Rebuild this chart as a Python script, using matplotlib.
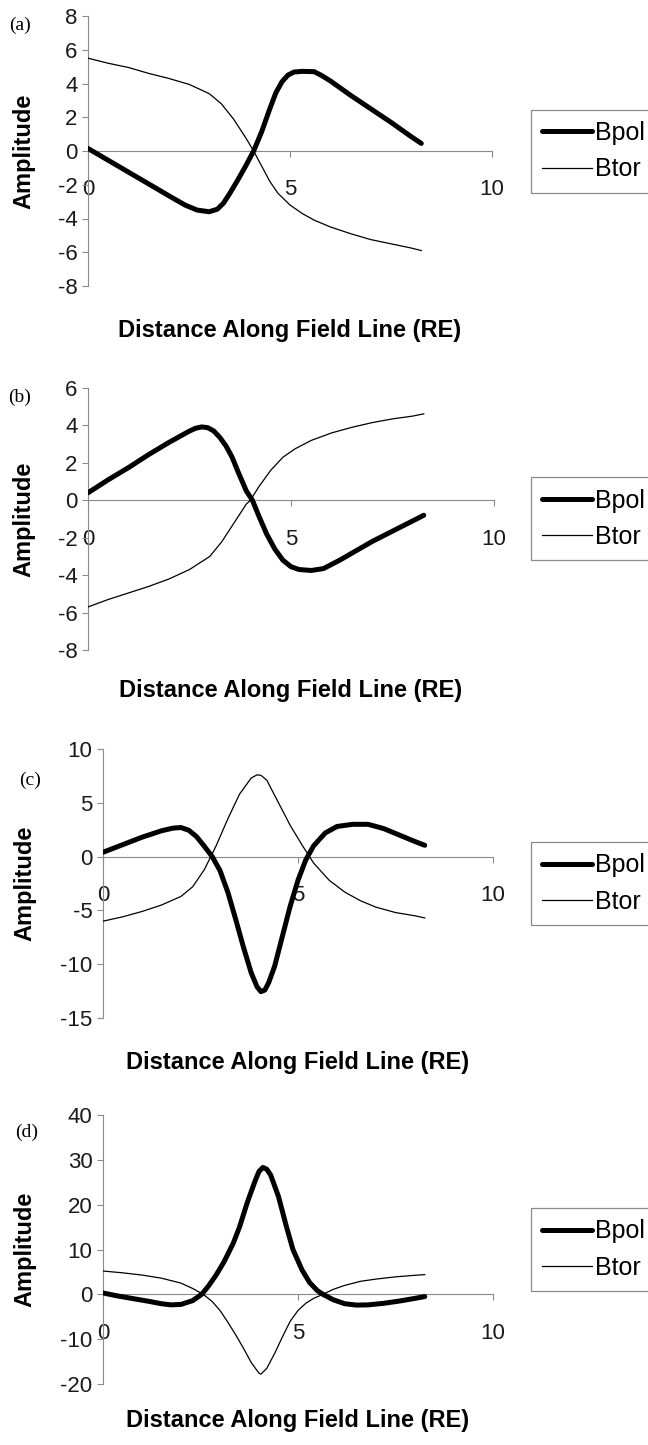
import numpy as np
import matplotlib.pyplot as plt

plt.rcParams['font.family'] = ['Liberation Sans', 'DejaVu Sans']
plt.rcParams['axes.unicode_minus'] = False

# ---- data ----
# (a)
xa_pol = [0, 0.5, 1.0, 1.5, 2.0, 2.4, 2.7, 3.0, 3.2, 3.35, 3.5, 3.7, 3.9, 4.1, 4.3, 4.5, 4.65, 4.8, 4.95, 5.1, 5.3, 5.6, 5.8, 6.0, 6.5, 7.0, 7.5, 8.0, 8.25]
ya_pol = [0.15, -0.55, -1.25, -1.95, -2.65, -3.2, -3.5, -3.6, -3.45, -3.1, -2.55, -1.75, -0.9, 0.0, 1.15, 2.5, 3.45, 4.1, 4.5, 4.68, 4.72, 4.7, 4.45, 4.15, 3.3, 2.5, 1.7, 0.85, 0.45]
xa_tor = [0, 0.5, 1.0, 1.5, 2.0, 2.5, 3.0, 3.3, 3.6, 3.9, 4.1, 4.3, 4.5, 4.7, 5.0, 5.3, 5.6, 6.0, 6.5, 7.0, 7.5, 8.0, 8.25]
ya_tor = [5.5, 5.2, 4.95, 4.6, 4.3, 3.95, 3.4, 2.8, 1.9, 0.8, 0.0, -0.9, -1.8, -2.5, -3.2, -3.7, -4.1, -4.5, -4.9, -5.25, -5.5, -5.75, -5.9]

# (b)
xb_pol = [0, 0.5, 1.0, 1.5, 2.0, 2.5, 2.65, 2.8, 2.95, 3.1, 3.25, 3.4, 3.55, 3.7, 3.9, 4.05, 4.2, 4.4, 4.6, 4.8, 5.0, 5.2, 5.5, 5.8, 6.2, 6.6, 7.0, 7.5, 8.0, 8.27]
yb_pol = [0.4, 1.1, 1.75, 2.45, 3.1, 3.7, 3.85, 3.92, 3.88, 3.7, 3.35, 2.9, 2.3, 1.5, 0.5, 0.0, -0.8, -1.8, -2.6, -3.2, -3.55, -3.7, -3.75, -3.65, -3.2, -2.7, -2.2, -1.65, -1.1, -0.8]
xb_tor = [0, 0.5, 1.0, 1.5, 2.0, 2.5, 3.0, 3.3, 3.6, 3.9, 4.0, 4.2, 4.5, 4.8, 5.1, 5.5, 6.0, 6.5, 7.0, 7.5, 8.0, 8.27]
yb_tor = [-5.7, -5.3, -4.95, -4.6, -4.2, -3.7, -3.0, -2.2, -1.2, -0.2, 0.0, 0.7, 1.6, 2.3, 2.75, 3.2, 3.6, 3.9, 4.15, 4.35, 4.5, 4.62]

# (c)
xc_pol = [0, 0.5, 1.0, 1.5, 1.8, 2.0, 2.2, 2.4, 2.6, 2.8, 3.0, 3.2, 3.4, 3.6, 3.8, 3.95, 4.05, 4.15, 4.25, 4.4, 4.6, 4.8, 5.0, 5.2, 5.4, 5.7, 6.0, 6.4, 6.8, 7.2, 7.6, 8.0, 8.25]
yc_pol = [0.4, 1.1, 1.8, 2.4, 2.65, 2.7, 2.45, 1.85, 0.95, 0.0, -1.3, -3.3, -5.8, -8.4, -10.8, -12.1, -12.55, -12.4, -11.7, -10.2, -7.4, -4.6, -2.2, -0.3, 1.0, 2.2, 2.8, 3.0, 3.0, 2.6, 2.0, 1.4, 1.05]
xc_tor = [0, 0.5, 1.0, 1.5, 2.0, 2.3, 2.6, 2.9, 3.2, 3.5, 3.8, 3.95, 4.05, 4.2, 4.5, 4.8, 5.1, 5.4, 5.8, 6.2, 6.6, 7.0, 7.5, 8.0, 8.25]
yc_tor = [-6.0, -5.6, -5.1, -4.5, -3.7, -2.8, -1.2, 1.0, 3.5, 5.8, 7.3, 7.6, 7.55, 7.1, 5.0, 2.9, 1.1, -0.6, -2.2, -3.3, -4.1, -4.7, -5.2, -5.5, -5.7]

# (d)
xd_pol = [0, 0.4, 0.8, 1.2, 1.5, 1.75, 2.0, 2.3, 2.53, 2.7, 2.9, 3.1, 3.34, 3.5, 3.7, 3.9, 4.0, 4.1, 4.2, 4.3, 4.5, 4.7, 4.87, 5.1, 5.3, 5.5, 5.64, 5.9, 6.2, 6.5, 6.8, 7.2, 7.6, 8.0, 8.25]
yd_pol = [0.3, -0.4, -1.0, -1.6, -2.1, -2.35, -2.25, -1.4, 0.0, 1.8, 4.3, 7.2, 11.4, 15.0, 20.5, 25.3, 27.4, 28.3, 27.9, 26.6, 21.8, 15.2, 10.0, 5.5, 2.6, 0.8, 0.0, -1.2, -2.1, -2.4, -2.35, -2.0, -1.5, -0.9, -0.5]
xd_tor = [0, 0.5, 1.0, 1.5, 2.0, 2.3, 2.57, 2.8, 3.0, 3.2, 3.4, 3.6, 3.8, 4.0, 4.05, 4.2, 4.4, 4.6, 4.8, 5.0, 5.2, 5.4, 5.64, 5.9, 6.2, 6.6, 7.0, 7.5, 8.0, 8.25]
yd_tor = [5.2, 4.8, 4.3, 3.6, 2.5, 1.3, 0.0, -1.6, -3.6, -6.2, -9.0, -12.0, -15.2, -17.6, -17.8, -16.5, -13.2, -9.5, -6.0, -3.6, -2.0, -0.9, 0.0, 1.1, 2.0, 2.9, 3.4, 3.9, 4.25, 4.4]

x_ticks = [0, 5, 10]
yticks_a = list(range(-8, 9, 2))
yticks_b = list(range(-8, 7, 2))
yticks_c = list(range(-15, 11, 5))
yticks_d = list(range(-20, 41, 10))
panel_names = ['(a)', '(b)', '(c)', '(d)']
series_names = ['Bpol', 'Btor']

# ---- layout (pixels) ----
W, H = 648, 1445
gray = '#8a8a8a'
fig = plt.figure(figsize=(W / 100, H / 100), dpi=100)

panels = [
    # left, right, top, bottom, xlabel y, ylabel x, tag x, tag y
    (88, 492, 16, 286, 330, 24, 20, 25, xa_pol, ya_pol, xa_tor, ya_tor, yticks_a),
    (88, 494, 388, 650, 690, 24, 20, 397, xb_pol, yb_pol, xb_tor, yb_tor, yticks_b),
    (103, 493, 749, 1018, 1062, 25, 30, 780, xc_pol, yc_pol, xc_tor, yc_tor, yticks_c),
    (103, 493, 1115, 1384, 1420, 25, 27, 1132, xd_pol, yd_pol, xd_tor, yd_tor, yticks_d),
]

for i, (l, r, t, b, xly, ylx, tx, ty, xp, yp, xt, yt, ytk) in enumerate(panels):
    ax = fig.add_axes([l / W, 1 - b / H, (r - l) / W, (b - t) / H])
    ax.plot(xp, yp, color='black', lw=3.6, zorder=3, solid_joinstyle='round',
            solid_capstyle='round', label=series_names[0])
    ax.plot(xt, yt, color='black', lw=0.9, zorder=3, solid_joinstyle='round',
            label=series_names[1])
    ax.set_xlim(0, 10)
    ax.set_ylim(ytk[0], ytk[-1])
    ax.set_xticks(x_ticks)
    ax.set_yticks(ytk)
    for s in ['top', 'right']:
        ax.spines[s].set_visible(False)
    ax.spines['bottom'].set_position(('data', 0))
    ax.spines['bottom'].set_color(gray)
    ax.spines['left'].set_color(gray)
    ax.tick_params(direction='out', length=4.5, width=0.8, color=gray,
                   labelsize=16, labelcolor='#1a1a1a')
    ax.tick_params(axis='x', pad=16)
    ax.tick_params(axis='y', pad=3)

    # legend box runs off the right edge, as in the original
    leg = ax.legend(loc='center left', bbox_to_anchor=(531 / W, 1 - (t + b) / 2 / H),
                    bbox_transform=fig.transFigure, fancybox=False, edgecolor=gray,
                    fontsize=18, handlelength=2.0, handletextpad=0.1, borderpad=0.45,
                    labelspacing=0.5, borderaxespad=0, framealpha=1)
    leg.get_frame().set_linewidth(0.9)

    fig.text((l + r) / 2 / W, 1 - xly / H, 'Distance Along Field Line (RE)',
             fontsize=17, fontweight='bold', ha='center', va='center')
    fig.text(ylx / W, 1 - (t + b) / 2 / H, 'Amplitude', rotation=90,
             fontsize=17, fontweight='bold', ha='center', va='center')
    fig.text(tx / W, 1 - ty / H, panel_names[i], family=['Liberation Serif', 'DejaVu Serif'],
             fontsize=14, ha='center', va='center')

fig.savefig('out.png', dpi=100)
